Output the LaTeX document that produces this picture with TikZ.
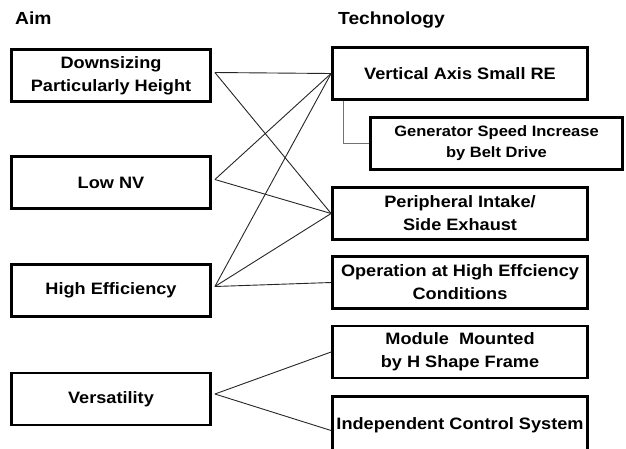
\documentclass[tikz,border=0pt]{standalone}
\usepackage{fontspec}
\setmainfont{Liberation Sans}[FakeStretch=1.1]
\begin{document}
\begin{tikzpicture}[x=1pt, y=-1pt,
    box/.style={draw, line width=2.8pt, align=center, inner sep=0pt,
      font=\bfseries\fontsize{16.5}{23}\selectfont},
    aimbox/.style={box, minimum width=199pt, minimum height=52pt},
    techbox/.style={box, minimum width=255pt, minimum height=52pt},
    title/.style={anchor=base west, inner sep=0pt, font=\bfseries\fontsize{17.5}{19}\selectfont},
    link/.style={line width=0.9pt, black!85},
    belt/.style={line width=0.9pt, black!55}]
    \useasboundingbox (0,0) rectangle (626,448);
    % headings
    \node[title] (aimhead) at (15,24) {Aim};
    \node[title] (techhead) at (338,24) {Technology};
    % aims
    \node[aimbox] (down) at (111,75.5) {Downsizing\\Particularly Height};
    \node[aimbox] (lownv) at (111,182.5) {Low NV};
    \node[aimbox] (higheff) at (111,290.5) {High Efficiency};
    \node[aimbox] (vers) at (111,399) {Versatility};
    % technologies
    \node[techbox] (vert) at (460,73.5) {Vertical Axis Small RE};
    \node[techbox, minimum width=252pt, font=\bfseries\fontsize{15}{21}\selectfont]
      (gen) at (496.5,143.5) {Generator Speed Increase\\by Belt Drive};
    \node[techbox] (periph) at (460,213.5) {Peripheral Intake/\\Side Exhaust};
    \node[techbox] (oper) at (460,282.5) {Operation at High Effciency\\Conditions};
    \node[techbox] (module) at (460,352) {Module\ \ Mounted\\by H Shape Frame};
    \node[techbox, minimum height=60pt] (indep) at (460,426.5) {\raisebox{6pt}{Independent Control System}};
    % links
    \draw[belt] ([xshift=12pt]vert.south west) |- (gen.west);
    \draw[link] ([shift={(3pt,3pt)}]down.east) -- (vert.west);
    \draw[link] ([shift={(3pt,3pt)}]down.east) -- (periph.west);
    \draw[link] ([shift={(3pt,3pt)}]lownv.east) -- (vert.west);
    \draw[link] ([shift={(3pt,3pt)}]lownv.east) -- (periph.west);
    \draw[link] ([shift={(3pt,4pt)}]higheff.east) -- (vert.west);
    \draw[link] ([shift={(3pt,4pt)}]higheff.east) -- (periph.west);
    \draw[link] ([shift={(3pt,4pt)}]higheff.east) -- (oper.west);
    \draw[link] ([shift={(3pt,5pt)}]vers.east) -- (module.west);
    \draw[link] ([shift={(3pt,5pt)}]vers.east) -- ([yshift=-4pt]indep.west);
\end{tikzpicture}
\end{document}
